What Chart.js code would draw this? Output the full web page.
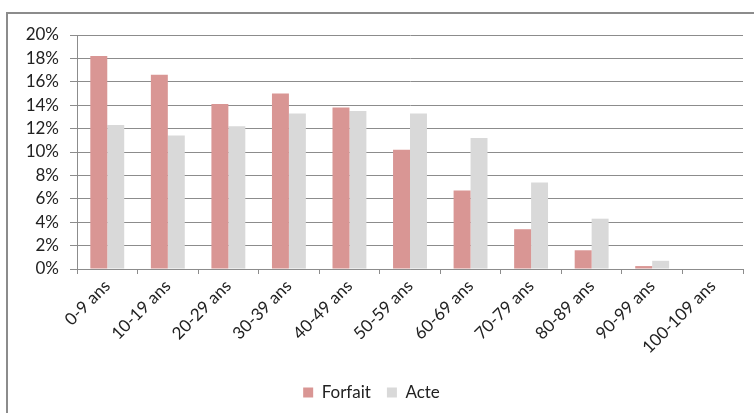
<!DOCTYPE html>
<html lang="fr">
<head>
  <meta charset="UTF-8">
  <title>Forfait / Acte par âge</title>
  <script src="https://cdn.jsdelivr.net/npm/chart.js"></script>
  <style>
    body {
      margin: 0;
      background: #fff;
      overflow: hidden;
    }

    #frame {
      position: absolute;
      left: 6px;
      top: 12px;
      width: 800px;
      height: 500px;
      border: 2px solid #8c8c8c;
    }

    #wrap {
      position: absolute;
      left: 0;
      top: 0;
      width: 754px;
      height: 413px;
    }
  </style>
</head>
<body>

<div id="frame"></div>
<div id="wrap">
  <canvas id="ageChart" width="754" height="413"></canvas>
</div>

<script>
  var categories = ['0-9 ans', '10-19 ans', '20-29 ans', '30-39 ans', '40-49 ans', '50-59 ans',
    '60-69 ans', '70-79 ans', '80-89 ans', '90-99 ans', '100-109 ans'];
  var forfait = [18.2, 16.6, 14.1, 15.0, 13.8, 10.2, 6.7, 3.4, 1.6, 0.25, 0];
  var acte = [12.3, 11.4, 12.2, 13.3, 13.5, 13.3, 11.2, 7.4, 4.3, 0.7, 0];
  var yTicks = [0, 2, 4, 6, 8, 10, 12, 14, 16, 18, 20];

  var font = "Lato, 'Open Sans', sans-serif";

  var ctx = document.getElementById('ageChart').getContext('2d');

  var ageChart = new Chart(ctx, {
    type: 'bar',
    data: {
      labels: categories,
      datasets: [{
        label: 'Forfait',
        data: forfait,
        backgroundColor: '#d99694',
        borderWidth: 0
      }, {
        label: 'Acte',
        data: acte,
        backgroundColor: '#d9d9d9',
        borderWidth: 0
      }]
    },
    options: {
      responsive: false,
      animation: false,
      layout: {
        padding: { top: 35, left: 0, right: 11, bottom: 2 }
      },
      scales: {
        x: {
          offset: true,
          afterFit: function (scale) { scale.height = 99; },
          grid: {
            drawOnChartArea: false,
            drawTicks: true,
            tickLength: 5,
            color: '#8c8c8c',
            offset: true
          },
          border: { display: true, color: '#8c8c8c', width: 1 },
          ticks: {
            color: '#222',
            font: { family: font, size: 17 },
            minRotation: 45,
            maxRotation: 45,
            padding: 2
          }
        },
        y: {
          min: 0,
          max: 20,
          afterFit: function (scale) { scale.width = 77; },
          afterBuildTicks: function (scale) {
            scale.ticks = yTicks.map(function (v) { return { value: v }; });
          },
          grid: {
            color: '#8c8c8c',
            lineWidth: 1,
            tickLength: 7
          },
          border: { display: true, color: '#8c8c8c', width: 1 },
          ticks: {
            color: '#222',
            font: { family: font, size: 17 },
            padding: 11,
            callback: function (v) { return v + '%'; }
          }
        }
      },
      datasets: {
        bar: { categoryPercentage: 0.56, barPercentage: 1.0 }
      },
      plugins: {
        legend: {
          position: 'bottom',
          labels: {
            color: '#222',
            font: { family: font, size: 17 },
            boxWidth: 10,
            boxHeight: 10,
            padding: 16
          }
        },
        tooltip: { enabled: false }
      }
    }
  });
</script>

</body>
</html>
